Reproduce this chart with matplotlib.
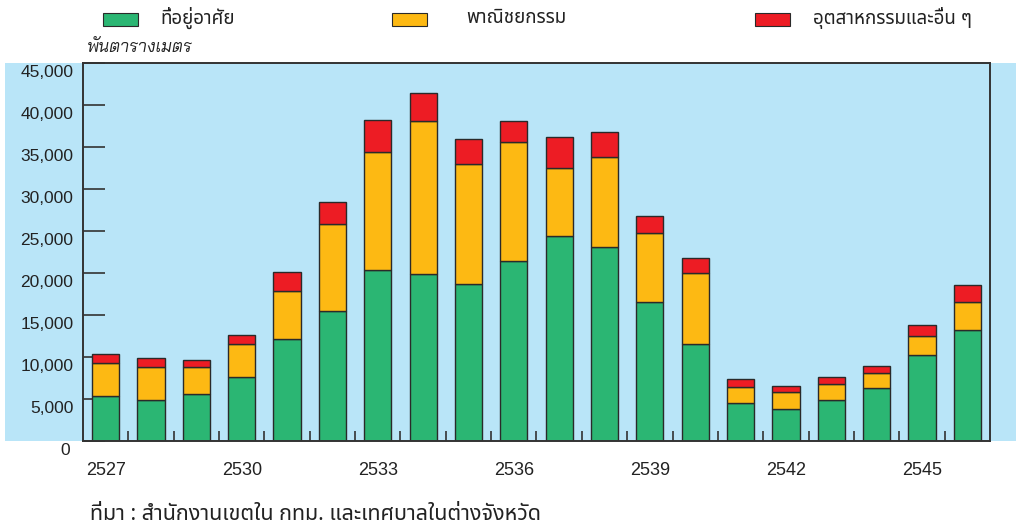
import matplotlib
matplotlib.use("Agg")
import matplotlib.pyplot as plt
import numpy as np
from matplotlib.patches import Rectangle
import matplotlib.transforms as mtransforms

years = [2527, 2528, 2529, 2530, 2531, 2532, 2533, 2534, 2535, 2536,
         2537, 2538, 2539, 2540, 2541, 2542, 2543, 2544, 2545, 2546]
# floor area, thousand sq. m
residential = [5360, 4850, 5600, 7580, 12140, 15480, 20360, 19850, 18690, 21470,
               24370, 23100, 16550, 11510, 4520, 3770, 4850, 6310, 10200, 13180]
commercial = [3890, 4000, 3175, 3930, 5720, 10390, 14010, 18280, 14250, 14090,
              8090, 10750, 8170, 8530, 1870, 2060, 1900, 1750, 2260, 3330]
industrial = [1070, 1070, 830, 1070, 2230, 2620, 3850, 3260, 3050, 2540,
              3690, 2980, 2060, 1710, 990, 720, 840, 870, 1390, 2020]
labels = ["ที่อยู่อาศัย", "พาณิชยกรรม", "อุตสาหกรรมและอื่น ๆ"]
colors = ["#2bb673", "#fdb913", "#ed1c24"]
yticks = [0, 5000, 10000, 15000, 20000, 25000, 30000, 35000, 40000, 45000]

thai = ["Noto Sans Thai", "DejaVu Sans"]
num = ["Liberation Sans", "DejaVu Sans"]
bg = "#b9e5f8"
edge = "#2a2a2a"

W, H = 1016, 527
fig = plt.figure(figsize=(W / 100, H / 100), dpi=100)

# light blue band behind the plot
fig.add_artist(Rectangle((5 / W, 1 - 441 / H), 1 - 5 / W, (441 - 63) / H,
                         transform=fig.transFigure, facecolor=bg, edgecolor="none", zorder=0))

ax = fig.add_axes([83 / W, 1 - 441 / H, (990 - 83) / W, (441 - 63) / H])
ax.set_facecolor(bg)
ax.set_axisbelow(True)

x = np.arange(len(years))
res = np.array(residential)
com = np.array(commercial)
ind = np.array(industrial)
kw = dict(width=0.6, edgecolor=edge, linewidth=1.0, zorder=2)
ax.bar(x, res, color=colors[0], **kw)
ax.bar(x, com, bottom=res, color=colors[1], **kw)
ax.bar(x, ind, bottom=res + com, color=colors[2], **kw)

ax.set_xlim(-0.5, len(years) - 0.5)
ax.set_ylim(0, 45000)
for s in ax.spines.values():
    s.set_color("#333333")
    s.set_linewidth(1.4)

ax.set_yticks(yticks)
ax.set_yticklabels([f"{v:,}" if v else "0" for v in yticks], family=num, fontsize=12.5, color="#222222")
ax.tick_params(axis="y", direction="in", length=16, width=1.2, color="#333333", pad=7)
shift = mtransforms.ScaledTranslation(0, -8 / 100, fig.dpi_scale_trans)
for lab in ax.get_yticklabels():
    lab.set_transform(lab.get_transform() + shift)
ax.get_yticklabels()[0].set_transform(ax.get_yticklabels()[0].get_transform()
                                      + mtransforms.ScaledTranslation(-3 / 100, 0, fig.dpi_scale_trans))

ax.set_xticks(x[::3])
ax.set_xticklabels([str(y) for y in years[::3]], family=num, fontsize=13, color="#222222")
ax.set_xticks(x[:-1] + 0.5, minor=True)
ax.tick_params(axis="x", which="major", length=0, pad=15)
ax.tick_params(axis="x", which="minor", direction="in", length=7, width=1.2, color="#333333")

# legend along the top
legend_pos = [(103, 160), (392, 466), (755, 813)]
for (sx, tx), lab, c in zip(legend_pos, labels, colors):
    fig.add_artist(Rectangle((sx / W, 1 - 26 / H), 35 / W, 13 / H, transform=fig.transFigure,
                             facecolor=c, edgecolor=edge, linewidth=0.8))
    fig.text(tx / W, 1 - 18 / H, lab, family=thai, fontsize=13.5, va="center", ha="left", color="#222222")

fig.text(87 / W, 1 - 47 / H, "พันตารางเมตร", family=["Bai Jamjuree", "DejaVu Sans"],
         style="italic", fontsize=12.5, va="center", ha="left", color="#222222")
fig.text(90 / W, 1 - 514 / H, "ที่มา : สำนักงานเขตใน กทม. และเทศบาลในต่างจังหวัด",
         family=thai, fontsize=15.5, va="center", ha="left", color="#222222")

fig.savefig("out.png", dpi=100)
